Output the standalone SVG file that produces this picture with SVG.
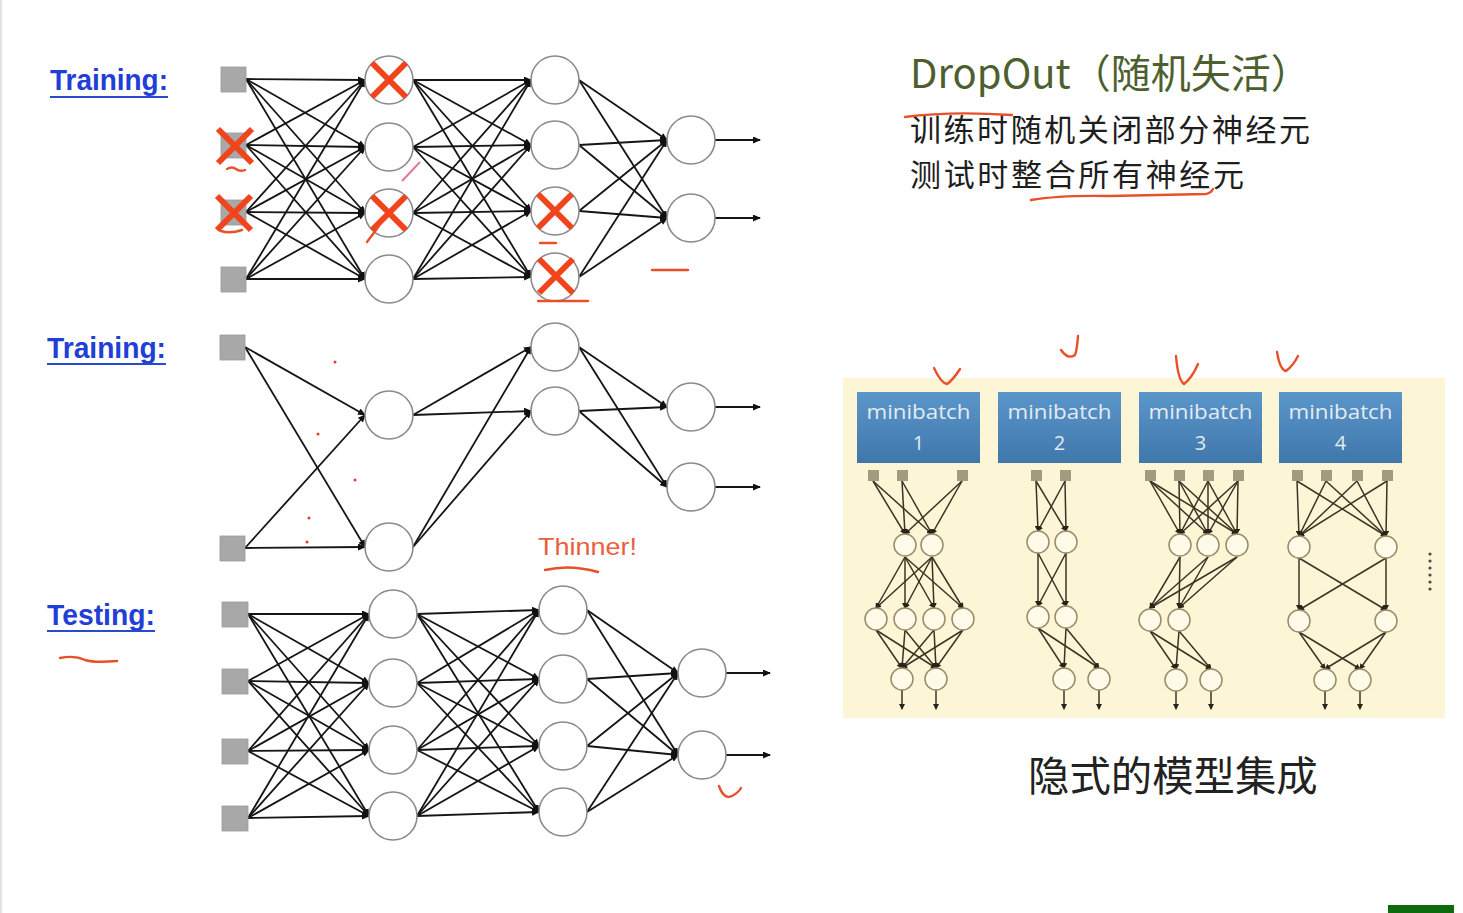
<svg xmlns="http://www.w3.org/2000/svg" xmlns:xlink="http://www.w3.org/1999/xlink" width="1463" height="913" viewBox="0 0 1463 913">
<style>
.sq{fill:#a8a8a8;stroke:#999;stroke-width:0.8}
.nd{fill:#fff;stroke:#8a8a8a;stroke-width:1.6}
.e{stroke:#151515;stroke-width:1.8;marker-end:url(#ah)}
.x{stroke:#f0441c;stroke-width:6;stroke-linecap:butt;fill:none}
.lbl{font-family:"Liberation Sans",Arial,sans-serif;font-weight:bold;font-size:30px;fill:#1f3fd6}
.ul{stroke:#2a48d0;stroke-width:1.8}
.red{fill:none;stroke:#e8502a;stroke-width:2.4;stroke-linecap:round;stroke-linejoin:round}
.cjk{font-family:"Noto Sans CJK SC","Noto Sans",sans-serif}
.mb{fill:url(#bg)}
.mbt{font-family:"Open Sans","Noto Sans",sans-serif;font-size:20px;fill:#e3ebf1;text-anchor:middle}
.psq{fill:#a39a80}
.pn{fill:#fffbe8;stroke:#9a8c6a;stroke-width:1.5}
.pe{stroke:#3b3425;stroke-width:1.5;marker-end:url(#ah2)}
</style>
<defs>
<marker id="ah" markerUnits="userSpaceOnUse" markerWidth="8" markerHeight="7" refX="7" refY="3.5" orient="auto"><path d="M0,0 L8,3.5 L0,7 z" fill="#111"/></marker>
<marker id="ah2" markerUnits="userSpaceOnUse" markerWidth="6" markerHeight="6" refX="5" refY="3" orient="auto"><path d="M0,0 L6,3 L0,6 z" fill="#2a2418"/></marker>
<linearGradient id="bg" x1="0" y1="0" x2="0" y2="1"><stop offset="0" stop-color="#5b96ca"/><stop offset="1" stop-color="#3f77ab"/></linearGradient>
<path id="xm" d="M-17,-17 L17,17 M17,-17 L-17,17"/>
</defs>
<rect width="1463" height="913" fill="#fff"/>
<rect x="0" y="0" width="2" height="913" fill="#e2e2e2"/>

<!-- labels -->
<g id="label-training1"><text class="lbl" x="50" y="90" textLength="118" lengthAdjust="spacingAndGlyphs">Training:</text><line class="ul" x1="50" y1="97" x2="168" y2="97"/></g>
<g id="label-training2"><text class="lbl" x="47" y="358" textLength="119" lengthAdjust="spacingAndGlyphs">Training:</text><line class="ul" x1="47" y1="364" x2="166" y2="364"/></g>
<g id="label-testing"><text class="lbl" x="47" y="625" textLength="108" lengthAdjust="spacingAndGlyphs">Testing:</text><line class="ul" x1="47" y1="631" x2="155" y2="631"/></g>

<g id="connectors">
<!-- network 1 -->
<line class="e" x1="246" y1="79" x2="365" y2="80"/><line class="e" x1="246" y1="79" x2="365" y2="147"/><line class="e" x1="246" y1="79" x2="365" y2="213"/><line class="e" x1="246" y1="79" x2="365" y2="279"/>
<line class="e" x1="246" y1="145" x2="365" y2="80"/><line class="e" x1="246" y1="145" x2="365" y2="147"/><line class="e" x1="246" y1="145" x2="365" y2="213"/><line class="e" x1="246" y1="145" x2="365" y2="279"/>
<line class="e" x1="246" y1="212" x2="365" y2="80"/><line class="e" x1="246" y1="212" x2="365" y2="147"/><line class="e" x1="246" y1="212" x2="365" y2="213"/><line class="e" x1="246" y1="212" x2="365" y2="279"/>
<line class="e" x1="246" y1="279" x2="365" y2="80"/><line class="e" x1="246" y1="279" x2="365" y2="147"/><line class="e" x1="246" y1="279" x2="365" y2="213"/><line class="e" x1="246" y1="279" x2="365" y2="279"/>
<line class="e" x1="413" y1="80" x2="531" y2="80"/><line class="e" x1="413" y1="80" x2="531" y2="145"/><line class="e" x1="413" y1="80" x2="531" y2="211"/><line class="e" x1="413" y1="80" x2="531" y2="277"/>
<line class="e" x1="413" y1="147" x2="531" y2="80"/><line class="e" x1="413" y1="147" x2="531" y2="145"/><line class="e" x1="413" y1="147" x2="531" y2="211"/><line class="e" x1="413" y1="147" x2="531" y2="277"/>
<line class="e" x1="413" y1="213" x2="531" y2="80"/><line class="e" x1="413" y1="213" x2="531" y2="145"/><line class="e" x1="413" y1="213" x2="531" y2="211"/><line class="e" x1="413" y1="213" x2="531" y2="277"/>
<line class="e" x1="413" y1="279" x2="531" y2="80"/><line class="e" x1="413" y1="279" x2="531" y2="145"/><line class="e" x1="413" y1="279" x2="531" y2="211"/><line class="e" x1="413" y1="279" x2="531" y2="277"/>
<line class="e" x1="579" y1="80" x2="667" y2="140"/><line class="e" x1="579" y1="80" x2="667" y2="218"/>
<line class="e" x1="579" y1="145" x2="667" y2="140"/><line class="e" x1="579" y1="145" x2="667" y2="218"/>
<line class="e" x1="579" y1="211" x2="667" y2="140"/><line class="e" x1="579" y1="211" x2="667" y2="218"/>
<line class="e" x1="579" y1="277" x2="667" y2="140"/><line class="e" x1="579" y1="277" x2="667" y2="218"/>
<line class="e" x1="715" y1="140" x2="760" y2="140"/><line class="e" x1="715" y1="218" x2="760" y2="218"/>
<!-- network 2 -->
<line class="e" x1="245" y1="347" x2="365" y2="415"/><line class="e" x1="245" y1="347" x2="365" y2="547"/>
<line class="e" x1="245" y1="548" x2="365" y2="415"/><line class="e" x1="245" y1="548" x2="365" y2="547"/>
<line class="e" x1="413" y1="415" x2="531" y2="347"/><line class="e" x1="413" y1="415" x2="531" y2="411"/>
<line class="e" x1="413" y1="547" x2="531" y2="347"/><line class="e" x1="413" y1="547" x2="531" y2="411"/>
<line class="e" x1="579" y1="347" x2="667" y2="407"/><line class="e" x1="579" y1="347" x2="667" y2="487"/>
<line class="e" x1="579" y1="411" x2="667" y2="407"/><line class="e" x1="579" y1="411" x2="667" y2="487"/>
<line class="e" x1="715" y1="407" x2="760" y2="407"/><line class="e" x1="715" y1="487" x2="760" y2="487"/>
<!-- network 3 -->
<line class="e" x1="248" y1="614" x2="369" y2="614"/><line class="e" x1="248" y1="614" x2="369" y2="683"/><line class="e" x1="248" y1="614" x2="369" y2="750"/><line class="e" x1="248" y1="614" x2="369" y2="816"/>
<line class="e" x1="248" y1="681" x2="369" y2="614"/><line class="e" x1="248" y1="681" x2="369" y2="683"/><line class="e" x1="248" y1="681" x2="369" y2="750"/><line class="e" x1="248" y1="681" x2="369" y2="816"/>
<line class="e" x1="248" y1="751" x2="369" y2="614"/><line class="e" x1="248" y1="751" x2="369" y2="683"/><line class="e" x1="248" y1="751" x2="369" y2="750"/><line class="e" x1="248" y1="751" x2="369" y2="816"/>
<line class="e" x1="248" y1="818" x2="369" y2="614"/><line class="e" x1="248" y1="818" x2="369" y2="683"/><line class="e" x1="248" y1="818" x2="369" y2="750"/><line class="e" x1="248" y1="818" x2="369" y2="816"/>
<line class="e" x1="417" y1="614" x2="539" y2="610"/><line class="e" x1="417" y1="614" x2="539" y2="679"/><line class="e" x1="417" y1="614" x2="539" y2="746"/><line class="e" x1="417" y1="614" x2="539" y2="812"/>
<line class="e" x1="417" y1="683" x2="539" y2="610"/><line class="e" x1="417" y1="683" x2="539" y2="679"/><line class="e" x1="417" y1="683" x2="539" y2="746"/><line class="e" x1="417" y1="683" x2="539" y2="812"/>
<line class="e" x1="417" y1="750" x2="539" y2="610"/><line class="e" x1="417" y1="750" x2="539" y2="679"/><line class="e" x1="417" y1="750" x2="539" y2="746"/><line class="e" x1="417" y1="750" x2="539" y2="812"/>
<line class="e" x1="417" y1="816" x2="539" y2="610"/><line class="e" x1="417" y1="816" x2="539" y2="679"/><line class="e" x1="417" y1="816" x2="539" y2="746"/><line class="e" x1="417" y1="816" x2="539" y2="812"/>
<line class="e" x1="587" y1="610" x2="678" y2="673"/><line class="e" x1="587" y1="610" x2="678" y2="755"/>
<line class="e" x1="587" y1="679" x2="678" y2="673"/><line class="e" x1="587" y1="679" x2="678" y2="755"/>
<line class="e" x1="587" y1="746" x2="678" y2="673"/><line class="e" x1="587" y1="746" x2="678" y2="755"/>
<line class="e" x1="587" y1="812" x2="678" y2="673"/><line class="e" x1="587" y1="812" x2="678" y2="755"/>
<line class="e" x1="726" y1="673" x2="770" y2="673"/><line class="e" x1="726" y1="755" x2="770" y2="755"/>
</g>

<!-- network 1 nodes -->
<g id="n1-in1"><rect class="sq" x="221" y="67" width="25" height="25"/></g>
<g id="n1-in2"><rect class="sq" x="221" y="133" width="25" height="25"/><use href="#xm" class="x" transform="translate(235,146)"/></g>
<g id="n1-in3"><rect class="sq" x="221" y="200" width="25" height="25"/><use href="#xm" class="x" transform="translate(234,213)"/></g>
<g id="n1-in4"><rect class="sq" x="221" y="267" width="25" height="25"/></g>
<g id="n1-h1a"><circle class="nd" cx="389" cy="80" r="24"/><use href="#xm" class="x" transform="translate(389,80)"/></g>
<g id="n1-h1b"><circle class="nd" cx="389" cy="147" r="24"/></g>
<g id="n1-h1c"><circle class="nd" cx="389" cy="213" r="24"/><use href="#xm" class="x" transform="translate(389,213)"/></g>
<g id="n1-h1d"><circle class="nd" cx="389" cy="279" r="24"/></g>
<g id="n1-h2a"><circle class="nd" cx="555" cy="80" r="24"/></g>
<g id="n1-h2b"><circle class="nd" cx="555" cy="145" r="24"/></g>
<g id="n1-h2c"><circle class="nd" cx="555" cy="211" r="24"/><use href="#xm" class="x" transform="translate(555,211)"/></g>
<g id="n1-h2d"><circle class="nd" cx="555" cy="277" r="24"/><use href="#xm" class="x" transform="translate(556,276)"/></g>
<g id="n1-o1"><circle class="nd" cx="691" cy="140" r="24"/></g>
<g id="n1-o2"><circle class="nd" cx="691" cy="218" r="24"/></g>

<!-- network 2 nodes -->
<g id="n2-in1"><rect class="sq" x="220" y="335" width="25" height="25"/></g>
<g id="n2-in2"><rect class="sq" x="220" y="536" width="25" height="25"/></g>
<g id="n2-h1a"><circle class="nd" cx="389" cy="415" r="24"/></g>
<g id="n2-h1b"><circle class="nd" cx="389" cy="547" r="24"/></g>
<g id="n2-h2a"><circle class="nd" cx="555" cy="347" r="24"/></g>
<g id="n2-h2b"><circle class="nd" cx="555" cy="411" r="24"/></g>
<g id="n2-o1"><circle class="nd" cx="691" cy="407" r="24"/></g>
<g id="n2-o2"><circle class="nd" cx="691" cy="487" r="24"/></g>

<!-- network 3 nodes -->
<g id="n3-in1"><rect class="sq" x="222" y="602" width="26" height="25"/></g>
<g id="n3-in2"><rect class="sq" x="222" y="669" width="26" height="25"/></g>
<g id="n3-in3"><rect class="sq" x="222" y="739" width="26" height="25"/></g>
<g id="n3-in4"><rect class="sq" x="222" y="806" width="26" height="25"/></g>
<g id="n3-h1a"><circle class="nd" cx="393" cy="614" r="24"/></g>
<g id="n3-h1b"><circle class="nd" cx="393" cy="683" r="24"/></g>
<g id="n3-h1c"><circle class="nd" cx="393" cy="750" r="24"/></g>
<g id="n3-h1d"><circle class="nd" cx="393" cy="816" r="24"/></g>
<g id="n3-h2a"><circle class="nd" cx="563" cy="610" r="24"/></g>
<g id="n3-h2b"><circle class="nd" cx="563" cy="679" r="24"/></g>
<g id="n3-h2c"><circle class="nd" cx="563" cy="746" r="24"/></g>
<g id="n3-h2d"><circle class="nd" cx="563" cy="812" r="24"/></g>
<g id="n3-o1"><circle class="nd" cx="702" cy="673" r="24"/></g>
<g id="n3-o2"><circle class="nd" cx="702" cy="755" r="24"/></g>

<!-- Thinner -->
<g id="thinner"><text x="538" y="555" font-family="Liberation Sans,Arial,sans-serif" font-size="24" fill="#e8603c" textLength="99" lengthAdjust="spacingAndGlyphs">Thinner!</text></g>

<!-- title texts -->
<g id="title"><text class="cjk" x="910" y="88" font-size="40" fill="#4d5f2e">DropOut（随机失活）</text></g>
<g id="desc"><text class="cjk" x="910" y="141" font-size="31" fill="#1e1e1e" textLength="400" lengthAdjust="spacing">训练时随机关闭部分神经元</text>
<text class="cjk" x="910" y="186" font-size="31" fill="#1e1e1e" textLength="334" lengthAdjust="spacing">测试时整合所有神经元</text></g>

<!-- right panel -->
<g id="panel"><rect x="843" y="378" width="602" height="340" fill="#fcf5d6"/></g>
<g id="mb1"><rect class="mb" x="857" y="392" width="123" height="71"/><text class="mbt" x="918.5" y="419" textLength="104" lengthAdjust="spacingAndGlyphs">minibatch</text><text class="mbt" x="918.5" y="450">1</text></g>
<g id="mb2"><rect class="mb" x="998" y="392" width="123" height="71"/><text class="mbt" x="1059.5" y="419" textLength="104" lengthAdjust="spacingAndGlyphs">minibatch</text><text class="mbt" x="1059.5" y="450">2</text></g>
<g id="mb3"><rect class="mb" x="1139" y="392" width="123" height="71"/><text class="mbt" x="1200.5" y="419" textLength="104" lengthAdjust="spacingAndGlyphs">minibatch</text><text class="mbt" x="1200.5" y="450">3</text></g>
<g id="mb4"><rect class="mb" x="1279" y="392" width="123" height="71"/><text class="mbt" x="1340.5" y="419" textLength="104" lengthAdjust="spacingAndGlyphs">minibatch</text><text class="mbt" x="1340.5" y="450">4</text></g>

<g id="panel-connectors">
<!-- p1 -->
<line class="pe" x1="873" y1="481" x2="905" y2="534"/><line class="pe" x1="873" y1="481" x2="932" y2="534"/>
<line class="pe" x1="902" y1="481" x2="905" y2="534"/><line class="pe" x1="902" y1="481" x2="932" y2="534"/>
<line class="pe" x1="962" y1="481" x2="905" y2="534"/><line class="pe" x1="962" y1="481" x2="932" y2="534"/>
<line class="pe" x1="905" y1="557" x2="876" y2="608"/><line class="pe" x1="905" y1="557" x2="905" y2="608"/><line class="pe" x1="905" y1="557" x2="934" y2="608"/><line class="pe" x1="905" y1="557" x2="963" y2="608"/>
<line class="pe" x1="932" y1="557" x2="876" y2="608"/><line class="pe" x1="932" y1="557" x2="905" y2="608"/><line class="pe" x1="932" y1="557" x2="934" y2="608"/><line class="pe" x1="932" y1="557" x2="963" y2="608"/>
<line class="pe" x1="876" y1="630" x2="902" y2="668"/><line class="pe" x1="876" y1="630" x2="936" y2="668"/>
<line class="pe" x1="905" y1="630" x2="902" y2="668"/><line class="pe" x1="905" y1="630" x2="936" y2="668"/>
<line class="pe" x1="934" y1="630" x2="902" y2="668"/><line class="pe" x1="934" y1="630" x2="936" y2="668"/>
<line class="pe" x1="963" y1="630" x2="902" y2="668"/><line class="pe" x1="963" y1="630" x2="936" y2="668"/>
<line class="pe" x1="902" y1="690" x2="902" y2="709"/><line class="pe" x1="936" y1="690" x2="936" y2="709"/>
<!-- p2 -->
<line class="pe" x1="1036" y1="481" x2="1038" y2="531"/><line class="pe" x1="1036" y1="481" x2="1066" y2="531"/>
<line class="pe" x1="1065" y1="481" x2="1038" y2="531"/><line class="pe" x1="1065" y1="481" x2="1066" y2="531"/>
<line class="pe" x1="1038" y1="553" x2="1038" y2="606"/><line class="pe" x1="1038" y1="553" x2="1066" y2="606"/>
<line class="pe" x1="1066" y1="553" x2="1038" y2="606"/><line class="pe" x1="1066" y1="553" x2="1066" y2="606"/>
<line class="pe" x1="1038" y1="628" x2="1064" y2="668"/><line class="pe" x1="1038" y1="628" x2="1099" y2="668"/>
<line class="pe" x1="1066" y1="628" x2="1064" y2="668"/><line class="pe" x1="1066" y1="628" x2="1099" y2="668"/>
<line class="pe" x1="1064" y1="690" x2="1064" y2="709"/><line class="pe" x1="1099" y1="690" x2="1099" y2="709"/>
<!-- p3 -->
<line class="pe" x1="1150" y1="481" x2="1180" y2="534"/><line class="pe" x1="1150" y1="481" x2="1208" y2="534"/><line class="pe" x1="1150" y1="481" x2="1237" y2="534"/>
<line class="pe" x1="1179" y1="481" x2="1180" y2="534"/><line class="pe" x1="1179" y1="481" x2="1208" y2="534"/><line class="pe" x1="1179" y1="481" x2="1237" y2="534"/>
<line class="pe" x1="1208" y1="481" x2="1180" y2="534"/><line class="pe" x1="1208" y1="481" x2="1208" y2="534"/><line class="pe" x1="1208" y1="481" x2="1237" y2="534"/>
<line class="pe" x1="1238" y1="481" x2="1180" y2="534"/><line class="pe" x1="1238" y1="481" x2="1208" y2="534"/><line class="pe" x1="1238" y1="481" x2="1237" y2="534"/>
<line class="pe" x1="1180" y1="557" x2="1150" y2="608"/><line class="pe" x1="1180" y1="557" x2="1179" y2="608"/>
<line class="pe" x1="1208" y1="557" x2="1150" y2="608"/><line class="pe" x1="1208" y1="557" x2="1179" y2="608"/>
<line class="pe" x1="1237" y1="557" x2="1150" y2="608"/><line class="pe" x1="1237" y1="557" x2="1179" y2="608"/>
<line class="pe" x1="1150" y1="631" x2="1176" y2="669"/><line class="pe" x1="1150" y1="631" x2="1211" y2="669"/>
<line class="pe" x1="1179" y1="631" x2="1176" y2="669"/><line class="pe" x1="1179" y1="631" x2="1211" y2="669"/>
<line class="pe" x1="1176" y1="691" x2="1176" y2="709"/><line class="pe" x1="1211" y1="691" x2="1211" y2="709"/>
<!-- p4 -->
<line class="pe" x1="1297" y1="481" x2="1299" y2="536"/><line class="pe" x1="1297" y1="481" x2="1386" y2="536"/>
<line class="pe" x1="1326" y1="481" x2="1299" y2="536"/><line class="pe" x1="1326" y1="481" x2="1386" y2="536"/>
<line class="pe" x1="1357" y1="481" x2="1299" y2="536"/><line class="pe" x1="1357" y1="481" x2="1386" y2="536"/>
<line class="pe" x1="1387" y1="481" x2="1299" y2="536"/><line class="pe" x1="1387" y1="481" x2="1386" y2="536"/>
<line class="pe" x1="1299" y1="558" x2="1299" y2="610"/><line class="pe" x1="1299" y1="558" x2="1386" y2="610"/>
<line class="pe" x1="1386" y1="558" x2="1299" y2="610"/><line class="pe" x1="1386" y1="558" x2="1386" y2="610"/>
<line class="pe" x1="1299" y1="632" x2="1325" y2="669"/><line class="pe" x1="1299" y1="632" x2="1360" y2="669"/>
<line class="pe" x1="1386" y1="632" x2="1325" y2="669"/><line class="pe" x1="1386" y1="632" x2="1360" y2="669"/>
<line class="pe" x1="1325" y1="691" x2="1325" y2="709"/><line class="pe" x1="1360" y1="691" x2="1360" y2="709"/>
</g>

<!-- panel nodes -->
<g id="p1-i1"><rect class="psq" x="868" y="470" width="11" height="11"/></g>
<g id="p1-i2"><rect class="psq" x="897" y="470" width="11" height="11"/></g>
<g id="p1-i3"><rect class="psq" x="957" y="470" width="11" height="11"/></g>
<g id="p1-h1"><circle class="pn" cx="905" cy="545" r="11"/></g>
<g id="p1-h2"><circle class="pn" cx="932" cy="545" r="11"/></g>
<g id="p1-g1"><circle class="pn" cx="876" cy="619" r="11"/></g>
<g id="p1-g2"><circle class="pn" cx="905" cy="619" r="11"/></g>
<g id="p1-g3"><circle class="pn" cx="934" cy="619" r="11"/></g>
<g id="p1-g4"><circle class="pn" cx="963" cy="619" r="11"/></g>
<g id="p1-o1"><circle class="pn" cx="902" cy="679" r="11"/></g>
<g id="p1-o2"><circle class="pn" cx="936" cy="679" r="11"/></g>

<g id="p2-i1"><rect class="psq" x="1031" y="470" width="11" height="11"/></g>
<g id="p2-i2"><rect class="psq" x="1060" y="470" width="11" height="11"/></g>
<g id="p2-h1"><circle class="pn" cx="1038" cy="542" r="11"/></g>
<g id="p2-h2"><circle class="pn" cx="1066" cy="542" r="11"/></g>
<g id="p2-g1"><circle class="pn" cx="1038" cy="617" r="11"/></g>
<g id="p2-g2"><circle class="pn" cx="1066" cy="617" r="11"/></g>
<g id="p2-o1"><circle class="pn" cx="1064" cy="679" r="11"/></g>
<g id="p2-o2"><circle class="pn" cx="1099" cy="679" r="11"/></g>

<g id="p3-i1"><rect class="psq" x="1145" y="470" width="11" height="11"/></g>
<g id="p3-i2"><rect class="psq" x="1174" y="470" width="11" height="11"/></g>
<g id="p3-i3"><rect class="psq" x="1203" y="470" width="11" height="11"/></g>
<g id="p3-i4"><rect class="psq" x="1233" y="470" width="11" height="11"/></g>
<g id="p3-h1"><circle class="pn" cx="1180" cy="545" r="11"/></g>
<g id="p3-h2"><circle class="pn" cx="1208" cy="545" r="11"/></g>
<g id="p3-h3"><circle class="pn" cx="1237" cy="545" r="11"/></g>
<g id="p3-g1"><circle class="pn" cx="1150" cy="620" r="11"/></g>
<g id="p3-g2"><circle class="pn" cx="1179" cy="620" r="11"/></g>
<g id="p3-o1"><circle class="pn" cx="1176" cy="680" r="11"/></g>
<g id="p3-o2"><circle class="pn" cx="1211" cy="680" r="11"/></g>

<g id="p4-i1"><rect class="psq" x="1292" y="470" width="11" height="11"/></g>
<g id="p4-i2"><rect class="psq" x="1321" y="470" width="11" height="11"/></g>
<g id="p4-i3"><rect class="psq" x="1352" y="470" width="11" height="11"/></g>
<g id="p4-i4"><rect class="psq" x="1382" y="470" width="11" height="11"/></g>
<g id="p4-h1"><circle class="pn" cx="1299" cy="547" r="11"/></g>
<g id="p4-h2"><circle class="pn" cx="1386" cy="547" r="11"/></g>
<g id="p4-g1"><circle class="pn" cx="1299" cy="621" r="11"/></g>
<g id="p4-g2"><circle class="pn" cx="1386" cy="621" r="11"/></g>
<g id="p4-o1"><circle class="pn" cx="1325" cy="680" r="11"/></g>
<g id="p4-o2"><circle class="pn" cx="1360" cy="680" r="11"/></g>

<g id="ellipsis" fill="#4a4a4a"><circle cx="1430" cy="554" r="1.6"/><circle cx="1430" cy="561" r="1.6"/><circle cx="1430" cy="568" r="1.6"/><circle cx="1430" cy="575" r="1.6"/><circle cx="1430" cy="582" r="1.6"/><circle cx="1430" cy="589" r="1.6"/></g>

<g id="caption"><text class="cjk" x="1028" y="791" font-size="41.4" fill="#222">隐式的模型集成</text></g>

<!-- red annotations -->
<g id="annotations">
<path class="red" d="M227,169 q5,-3 9,0 q4,3 9,1"/>
<path class="red" d="M221,231 q9,3 21,-1"/>
<path d="M420,162 L402,181" stroke="#e07a90" stroke-width="2" fill="none"/>
<path class="red" d="M379,226 L367,242"/>
<path class="red" d="M540,243 L556,243"/>
<path class="red" d="M538,301 L588,301"/>
<path class="red" d="M652,270 L688,270"/>
<path class="red" d="M719,786 q5,14 13,10 q6,-3 9,-8"/>
<path class="red" d="M545,570 q25,-6 53,2"/>
<path class="red" d="M60,658 q14,-3 25,2 q10,3 32,1"/>
<path class="red" d="M905,117 Q950,111 1012,115"/>
<path class="red" d="M1031,200 Q1060,195 1110,196 L1206,194 Q1211,193 1213,189"/>
<path class="red" d="M934,368 Q941,383 947,384 Q953,380 960,369"/>
<path class="red" d="M1078,336 Q1077,350 1075,355 Q1068,360 1061,350"/>
<path class="red" d="M1176,356 Q1178,380 1184,384 Q1192,378 1198,364"/>
<path class="red" d="M1277,352 Q1280,370 1286,371 Q1293,366 1298,356"/>
<g fill="#d8402a"><circle cx="335" cy="362" r="1.5"/><circle cx="318" cy="434" r="1.5"/><circle cx="355" cy="480" r="1.5"/><circle cx="309" cy="518" r="1.5"/><circle cx="307" cy="542" r="1.5"/></g>
</g>

<rect x="1388" y="905" width="66" height="8" fill="#0d6b0d"/>
</svg>
